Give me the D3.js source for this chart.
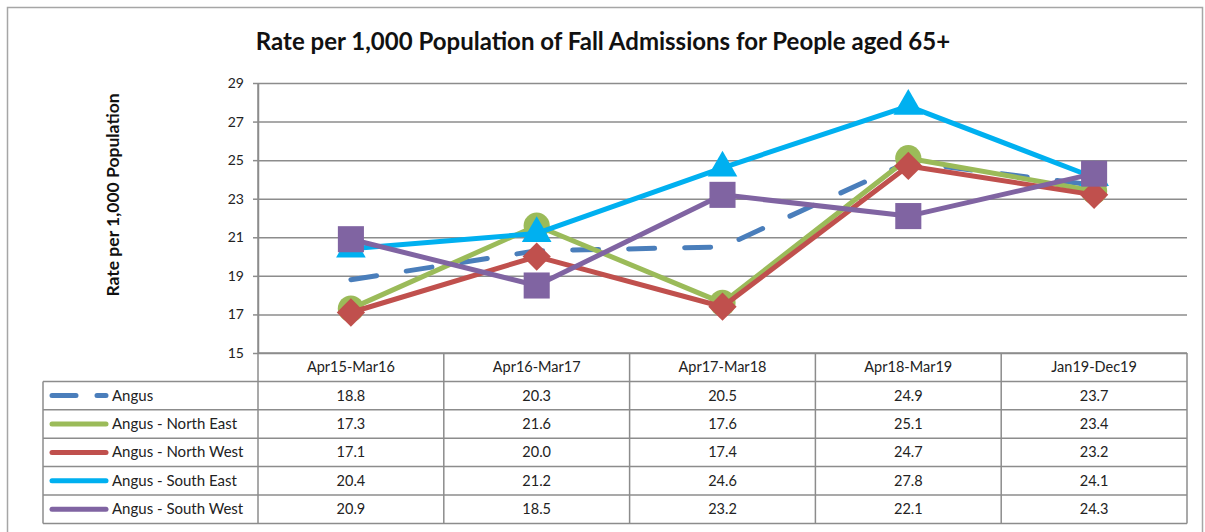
<!DOCTYPE html>
<html>
<head>
<meta charset="utf-8">
<script src="https://cdn.jsdelivr.net/npm/d3@7"></script>
<style>
  body { margin: 0; background: #fff; }
  svg { font-family: Lato, "Liberation Sans", sans-serif; }
</style>
</head>
<body>
<div id="chart-area"></div>
<script>
// Data
var periods = ["Apr15-Mar16", "Apr16-Mar17", "Apr17-Mar18", "Apr18-Mar19", "Jan19-Dec19"];
var seriesNames = ["Angus", "Angus - North East", "Angus - North West", "Angus - South East", "Angus - South West"];
var angus = [18.8, 20.3, 20.5, 24.9, 23.7];
var northEast = [17.3, 21.6, 17.6, 25.1, 23.4];
var northWest = [17.1, 20.0, 17.4, 24.7, 23.2];
var southEast = [20.4, 21.2, 24.6, 27.8, 24.1];
var southWest = [20.9, 18.5, 23.2, 22.1, 24.3];
var yTicks = [15, 17, 19, 21, 23, 25, 27, 29];

var allValues = [angus, northEast, northWest, southEast, southWest];
var colors = ["#4a7ebb", "#9bbb59", "#c0504d", "#00b0f0", "#8064a2"];
var symbols = [null, d3.symbolCircle, d3.symbolSquare, d3.symbolTriangle, d3.symbolSquare];
var symbolSizes = [0, 540, 400, 380, 680];
var symbolRot = [0, 0, 45, 0, 0];

var W = 1205, H = 532;
var plotLeft = 258, plotRight = 1187, plotTop = 83, plotBottom = 353;
var rowH = 28.4, tableLeft = 43;

var svg = d3.select("#chart-area")
    .append("svg")
        .attr("width", W)
        .attr("height", H);

// outer frame
svg.append("rect")
    .attr("x", 7.5).attr("y", 7.5)
    .attr("width", 1195).attr("height", 540)
    .attr("fill", "none")
    .attr("stroke", "#a6a6a6")
    .attr("stroke-width", 1.5);

// Scales
var x = d3.scaleBand()
    .domain(periods)
    .range([plotLeft, plotRight])
    .padding(0);
var y = d3.scaleLinear()
    .domain([15, 29])
    .range([plotBottom, plotTop]);
function cx(p) { return x(p) + x.bandwidth() / 2; }

// Title
svg.append("text")
    .attr("x", 603)
    .attr("y", 50)
    .attr("text-anchor", "middle")
    .attr("font-size", "24px")
    .attr("font-weight", "bold")
    .attr("fill", "#111")
    .text("Rate per 1,000 Population of Fall Admissions for People aged 65+");

// Y label
svg.append("text")
    .attr("transform", "translate(119,195) rotate(-90)")
    .attr("text-anchor", "middle")
    .attr("font-size", "17.5px")
    .attr("font-weight", "bold")
    .attr("fill", "#111")
    .text("Rate per 1,000 Population");

// Gridlines
var grid = svg.append("g")
    .attr("transform", "translate(" + plotLeft + ",0)")
    .call(d3.axisLeft(y).tickValues(yTicks).tickSize(-(plotRight - plotLeft)).tickFormat(""));
grid.select(".domain").remove();
grid.selectAll("line").attr("stroke", "#8c8c8c").attr("stroke-width", 1.5);

// Y Axis
var yAxis = svg.append("g")
    .attr("transform", "translate(" + plotLeft + ",0)")
    .call(d3.axisLeft(y).tickValues(yTicks).tickSize(5).tickSizeOuter(0).tickPadding(9));
yAxis.select(".domain").attr("stroke", "#8c8c8c").attr("stroke-width", 1.5);
yAxis.selectAll("line").attr("stroke", "#8c8c8c").attr("stroke-width", 1.5);
yAxis.selectAll("text")
    .attr("font-family", "Lato, sans-serif")
    .attr("font-size", "14px")
    .attr("fill", "#222");

// Data table
var table = svg.append("g");
var tableBottom = plotBottom + rowH * 6;

// horizontal lines
d3.range(7).forEach(function(i){
    var yy = plotBottom + rowH * i;
    table.append("line")
        .attr("x1", i == 0 ? plotLeft : tableLeft)
        .attr("x2", plotRight)
        .attr("y1", yy).attr("y2", yy)
        .attr("stroke", "#8c8c8c").attr("stroke-width", 1.5);
});
// vertical lines
table.append("line")
    .attr("x1", tableLeft).attr("x2", tableLeft)
    .attr("y1", plotBottom + rowH).attr("y2", tableBottom)
    .attr("stroke", "#8c8c8c").attr("stroke-width", 1.5);
periods.concat(["end"]).forEach(function(p, i){
    var xx = i < periods.length ? x(p) : plotRight;
    table.append("line")
        .attr("x1", xx).attr("x2", xx)
        .attr("y1", i == 0 ? plotTop : plotBottom).attr("y2", tableBottom)
        .attr("stroke", "#8c8c8c").attr("stroke-width", 1.5);
});

// header
periods.forEach(function(p){
    table.append("text")
        .attr("x", cx(p))
        .attr("y", plotBottom + rowH / 2 + 5)
        .attr("text-anchor", "middle")
        .attr("font-size", "14.5px")
        .attr("fill", "#222")
        .text(p);
});

// rows
seriesNames.forEach(function(name, s){
    var rowY = plotBottom + rowH * (s + 1) + rowH / 2;
    var sample = table.append("line")
        .attr("x1", 52).attr("x2", 106)
        .attr("y1", rowY).attr("y2", rowY)
        .attr("stroke", colors[s])
        .attr("stroke-width", 5)
        .attr("stroke-linecap", "round");
    if (s == 0) sample.attr("stroke-dasharray", "24,21");
    table.append("text")
        .attr("x", 112)
        .attr("y", rowY + 5)
        .attr("font-size", "15px")
        .attr("fill", "#222")
        .text(name);
    allValues[s].forEach(function(v, i){
        table.append("text")
            .attr("x", cx(periods[i]))
            .attr("y", rowY + 5)
            .attr("text-anchor", "middle")
            .attr("font-size", "14.5px")
            .attr("fill", "#222")
            .text(d3.format(".1f")(v));
    });
});

// Lines and markers
var line = d3.line()
    .x(function(d, i){ return cx(periods[i]); })
    .y(function(d){ return y(d); });

allValues.forEach(function(vals, s){
    var path = svg.append("path")
        .datum(vals)
        .attr("d", line)
        .attr("fill", "none")
        .attr("stroke", colors[s])
        .attr("stroke-width", 5)
        .attr("stroke-linejoin", "round");
    if (s == 0) path.attr("stroke-dasharray", "26,30").attr("stroke-linecap", "round");
    if (symbols[s]) {
        svg.selectAll(".m" + s)
            .data(vals)
            .enter()
            .append("path")
            .attr("class", "m" + s)
            .attr("transform", function(d, i){
                return "translate(" + cx(periods[i]) + "," + y(d) + ") rotate(" + symbolRot[s] + ")";
            })
            .attr("d", d3.symbol().type(symbols[s]).size(symbolSizes[s]))
            .attr("fill", colors[s]);
    }
});
</script>
</body>
</html>
